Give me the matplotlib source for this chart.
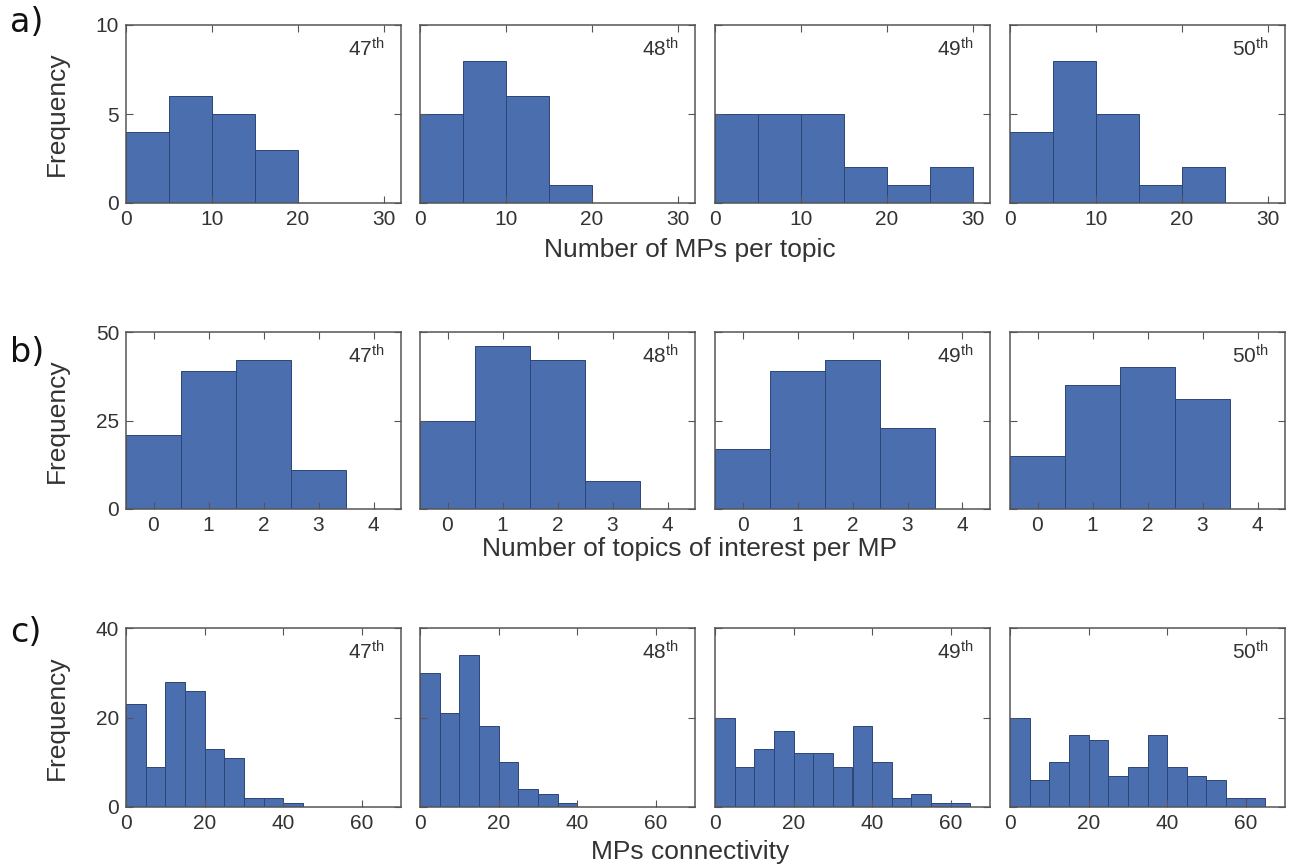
import matplotlib.pyplot as plt
import numpy as np

plt.rcParams['font.family'] = ['Liberation Sans', 'DejaVu Sans']
plt.rcParams['mathtext.default'] = 'regular'

parliaments = ['47', '48', '49', '50']

# a) MPs per topic, bins of width 5
mps_per_topic = [
    [4, 6, 5, 3],
    [5, 8, 6, 1],
    [5, 5, 5, 2, 1, 2],
    [4, 8, 5, 1, 2],
]

# b) topics of interest per MP, one bin per integer 0..3
topics_per_mp = [
    [21, 39, 42, 11],
    [25, 46, 42, 8],
    [17, 39, 42, 23],
    [15, 35, 40, 31],
]

# c) MPs connectivity, bins of width 5
connectivity = [
    [23, 9, 28, 26, 13, 11, 2, 2, 1],
    [30, 21, 34, 18, 10, 4, 3, 1],
    [20, 9, 13, 17, 12, 12, 9, 18, 10, 2, 3, 1, 1],
    [20, 6, 10, 16, 15, 7, 9, 16, 9, 7, 6, 2, 2],
]

rows = [
    dict(counts=mps_per_topic, start=0, width=5, xlim=(0, 32), xticks=[0, 10, 20, 30],
         ylim=(0, 10), yticks=[0, 5, 10], xlabel='Number of MPs per topic', tag='a)'),
    dict(counts=topics_per_mp, start=-0.5, width=1, xlim=(-0.5, 4.5), xticks=[0, 1, 2, 3, 4],
         ylim=(0, 50), yticks=[0, 25, 50], xlabel='Number of topics of interest per MP', tag='b)'),
    dict(counts=connectivity, start=0, width=5, xlim=(0, 70), xticks=[0, 20, 40, 60],
         ylim=(0, 40), yticks=[0, 20, 40], xlabel='MPs connectivity', tag='c)'),
]

W, H = 1291, 864
fig = plt.figure(figsize=(W / 100, H / 100), dpi=100)

col_x = [126, 420, 715, 1010]
ax_w = 275
row_top = [25, 332, 628]
ax_h = [178, 177, 179]
xlabel_y = [250, 549, 852]
tag_y = [22, 352, 632]

bar_color = '#4a6eae'
edge_color = '#2b4677'
spine_color = '#555555'
text_color = '#333333'

for r, row in enumerate(rows):
    for c in range(4):
        ax = fig.add_axes([col_x[c] / W, 1 - (row_top[r] + ax_h[r]) / H, ax_w / W, ax_h[r] / H])
        counts = np.array(row['counts'][c])
        lefts = row['start'] + row['width'] * np.arange(len(counts))
        ax.bar(lefts, counts, width=row['width'], align='edge', color=bar_color,
               edgecolor=edge_color, linewidth=0.7)
        ax.set_xlim(*row['xlim'])
        ax.set_ylim(*row['ylim'])
        ax.set_xticks(row['xticks'])
        ax.set_yticks(row['yticks'])
        ax.tick_params(direction='in', top=True, right=True, length=5, width=0.8,
                       color=spine_color, labelsize=15, labelcolor=text_color, pad=5)
        if c > 0:
            ax.set_yticklabels([])
        for s in ax.spines.values():
            s.set_color(spine_color)
            s.set_linewidth(1.1)
        ax.text(0.94, 0.93, parliaments[c] + '$^{th}$', transform=ax.transAxes,
                ha='right', va='top', fontsize=15, color=text_color)
    fig.text(690 / W, 1 - xlabel_y[r] / H, row['xlabel'], ha='center', va='center',
             fontsize=19, color=text_color)
    fig.text(57 / W, 1 - (row_top[r] + ax_h[r] / 2) / H, 'Frequency', rotation=90,
             ha='center', va='center', fontsize=19, color=text_color)
    fig.text(10 / W, 1 - tag_y[r] / H, row['tag'], ha='left', va='center',
             fontsize=24, color='#111111', family='DejaVu Sans')

fig.savefig('out.png', dpi=100)
